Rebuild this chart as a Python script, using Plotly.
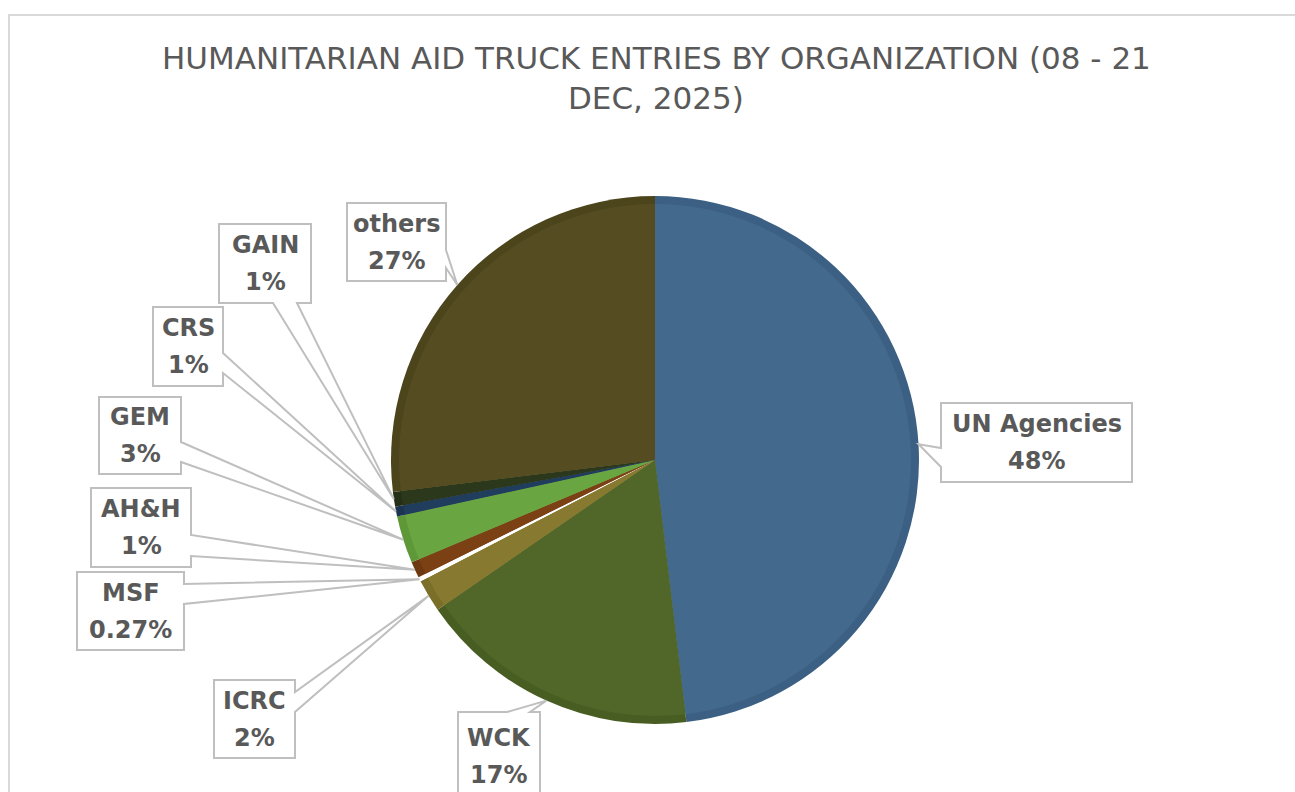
import plotly.graph_objects as go
import math

W, H = 1295, 792

# ---- data ----
organizations = ["UN Agencies", "WCK", "ICRC", "MSF", "AH&H", "GEM", "CRS", "GAIN", "others"]
share = [48.1, 17.3, 2.0, 0.27, 1.0, 2.9, 0.6, 0.9, 26.93]

# ---- styles ----
fill_colors = ["#43698C", "#506729", "#877A30", "#FFFFFF", "#7B4115", "#69A540", "#213D5E", "#2C381B", "#554D21"]
edge_colors = ["#3B6083", "#475D22", "#7A6E28", "#FFFFFF", "#6E3911", "#5E9838", "#1B3452", "#252F16", "#4C451C"]

TITLE_LINES = ["HUMANITARIAN AID TRUCK ENTRIES BY ORGANIZATION (08 - 21", "DEC, 2025)"]
TEXT_COLOR = "#595959"
LINE_COLOR = "#BFBFBF"

# pie geometry in pixels
CX, CY, R = 655, 460, 264
BEVEL = 8

# callout boxes: (x0, y0, x1, y1), wedge side, wedge base (a, b), text center y
callouts = {
    "UN Agencies": ((941, 403, 1132, 482), "left", (448, 467), None),
    "WCK": ((458, 712, 540, 800), "top", (507, 530), 756),
    "ICRC": ((214, 680, 295, 758), "right", (692, 712), None),
    "MSF": ((77, 572, 184, 650), "right", (584, 604), None),
    "AH&H": ((91, 488, 191, 567), "right", (535, 556), None),
    "GEM": ((99, 397, 181, 474), "right", (442, 462), None),
    "CRS": ((153, 307, 223, 386), "right", (353, 373), None),
    "GAIN": ((219, 224, 311, 303), "bottom", (273, 297), None),
    "others": ((347, 203, 446, 281), "right", (250, 268), None),
}

total = sum(share)
pct = [v / total * 100 for v in share]


def fmt(p):
    return f"{p:.2f}%" if p < 0.5 else f"{round(p):.0f}%"


def px(x, y):
    return x / W, 1 - y / H


def dom(cx, cy, r):
    return dict(x=[(cx - r) / W, (cx + r) / W], y=[1 - (cy + r) / H, 1 - (cy - r) / H])


fig = go.Figure()
common = dict(
    labels=organizations, values=share, sort=False, direction="clockwise", rotation=0,
    textinfo="none", hoverinfo="label+percent", showlegend=False,
)
fig.add_trace(go.Pie(domain=dom(CX, CY, R), marker=dict(colors=edge_colors, line=dict(width=0)), **common))
fig.add_trace(go.Pie(domain=dom(CX, CY, R - BEVEL), marker=dict(colors=fill_colors, line=dict(width=0)), **common))

shapes = []
# chart border
shapes.append(dict(type="rect", xref="paper", yref="paper", x0=9 / W, y0=-0.02, x1=1.02, y1=1 - 15 / H,
                   line=dict(color="#D9D9D9", width=2), fillcolor="rgba(0,0,0,0)", layer="below"))

annotations = []
# title, one annotation per line
for i, line in enumerate(TITLE_LINES):
    tx_, ty_ = px(656, 58 + 40 * i)
    annotations.append(dict(x=tx_, y=ty_, xref="paper", yref="paper", xanchor="center", yanchor="middle",
                            text=line, showarrow=False,
                            font=dict(family="DejaVu Sans", size=31, color=TEXT_COLOR)))

cum = 0.0
for name, p in zip(organizations, pct):
    mid = (cum + p / 2) / 100 * 2 * math.pi
    cum += p
    tx = CX + R * math.sin(mid)
    ty = CY - R * math.cos(mid)
    (x0, y0, x1, y1), side, (a, b), tcy = callouts[name]
    if side == "top":
        pts = [(x0, y0), (a, y0), (tx, ty), (b, y0), (x1, y0), (x1, y1), (x0, y1)]
    elif side == "right":
        pts = [(x0, y0), (x1, y0), (x1, a), (tx, ty), (x1, b), (x1, y1), (x0, y1)]
    elif side == "bottom":
        pts = [(x0, y0), (x1, y0), (x1, y1), (b, y1), (tx, ty), (a, y1), (x0, y1)]
    else:
        pts = [(x0, y0), (x1, y0), (x1, y1), (x0, y1), (x0, b), (tx, ty), (x0, a)]
    path = "M " + " L ".join("%.5f,%.5f" % px(*pt) for pt in pts) + " Z"
    shapes.append(dict(type="path", xref="paper", yref="paper", path=path,
                       line=dict(color=LINE_COLOR, width=2), fillcolor="white", layer="above"))
    cy_text = tcy if tcy is not None else (y0 + y1) / 2
    for k, txt in enumerate([name, fmt(p)]):
        lx, ly = px((x0 + x1) / 2, cy_text + (k - 0.5) * 37)
        annotations.append(dict(
            x=lx, y=ly, xref="paper", yref="paper", xanchor="center", yanchor="middle",
            text=f"<b>{txt}</b>", showarrow=False,
            font=dict(family="DejaVu Sans", size=24, color=TEXT_COLOR),
        ))

fig.update_layout(
    width=W, height=H,
    margin=dict(l=0, r=0, t=0, b=0),
    paper_bgcolor="white", plot_bgcolor="white",
    shapes=shapes, annotations=annotations,
)

fig.write_html("out.html")
